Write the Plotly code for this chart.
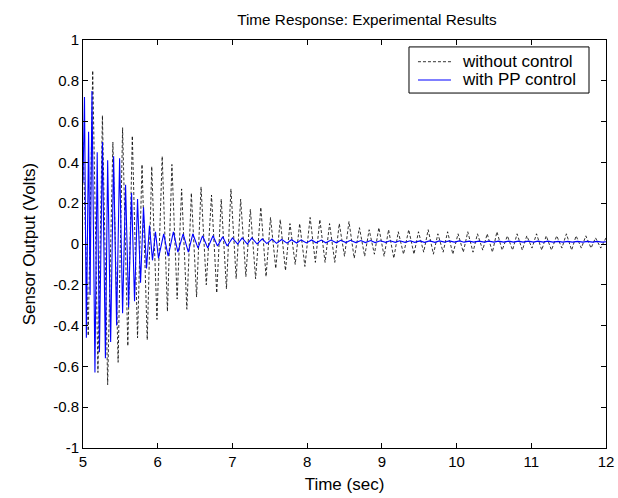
import plotly.graph_objects as go

# ---- data (extremes of each oscillation) ----
nc_peak_t = [5.00, 5.13, 5.26, 5.40, 5.53, 5.66, 5.79, 5.92, 6.06, 6.19,
             6.32, 6.45, 6.58, 6.72, 6.85, 6.98, 7.11, 7.24, 7.38, 7.51,
             7.64, 7.77, 7.90, 8.04, 8.17, 8.30, 8.43, 8.56, 8.70, 8.83,
             8.96, 9.09, 9.22, 9.36, 9.49, 9.62, 9.75, 9.88, 10.02, 10.15,
             10.28, 10.41, 10.54, 10.68, 10.81, 10.94, 11.07, 11.20, 11.34, 11.47,
             11.60, 11.73, 11.86, 12.00]
nc_peak_v = [0.50, 0.85, 0.63, 0.50, 0.57, 0.53, 0.39, 0.38, 0.43, 0.39,
             0.27, 0.25, 0.28, 0.24, 0.22, 0.27, 0.22, 0.17, 0.18, 0.13,
             0.12, 0.10, 0.10, 0.13, 0.12, 0.10, 0.10, 0.11, 0.08, 0.07,
             0.08, 0.07, 0.06, 0.07, 0.06, 0.07, 0.05, 0.06, 0.05, 0.06,
             0.05, 0.05, 0.06, 0.04, 0.05, 0.04, 0.05, 0.04, 0.04, 0.05,
             0.04, 0.04, 0.03, 0.03]
nc_trough_t = [5.07, 5.20, 5.33, 5.47, 5.60, 5.73, 5.86, 5.99, 6.13, 6.26,
               6.39, 6.52, 6.65, 6.79, 6.92, 7.05, 7.18, 7.31, 7.45, 7.58,
               7.71, 7.84, 7.97, 8.11, 8.24, 8.37, 8.50, 8.63, 8.77, 8.90,
               9.03, 9.16, 9.29, 9.43, 9.56, 9.69, 9.82, 9.95, 10.09, 10.22,
               10.35, 10.48, 10.61, 10.75, 10.88, 11.01, 11.14, 11.27, 11.41, 11.54,
               11.67, 11.80, 11.93]
nc_trough_v = [-0.45, -0.63, -0.69, -0.58, -0.50, -0.46, -0.47, -0.37, -0.33, -0.27,
               -0.32, -0.26, -0.20, -0.24, -0.22, -0.17, -0.16, -0.17, -0.16, -0.12,
               -0.13, -0.10, -0.11, -0.09, -0.09, -0.09, -0.06, -0.07, -0.06, -0.05,
               -0.06, -0.07, -0.05, -0.05, -0.04, -0.05, -0.04, -0.05, -0.04, -0.04,
               -0.03, -0.04, -0.03, -0.03, -0.03, -0.02, -0.03, -0.03, -0.02, -0.03,
               -0.02, -0.02, -0.02]

pp_t = [5.00, 5.02, 5.045, 5.075, 5.095, 5.12, 5.16, 5.19, 5.22, 5.26,
        5.30, 5.33, 5.37, 5.41, 5.45, 5.49, 5.53, 5.57, 5.61, 5.65,
        5.69, 5.73, 5.77, 5.81, 5.85, 5.89, 5.93, 5.97,
        6.01, 6.08, 6.14, 6.21, 6.27, 6.34, 6.41, 6.47, 6.54, 6.60,
        6.67, 6.74, 6.80, 6.87, 6.93, 7.00, 7.07, 7.13, 7.20, 7.26,
        7.33, 7.40, 7.46, 7.53, 7.59, 7.66, 7.73, 7.79, 7.86, 7.92,
        7.99, 8.06, 8.12, 8.19, 8.25, 8.32, 8.39, 8.45, 8.52, 8.58,
        8.65, 8.72, 8.78, 8.85, 8.91, 8.98, 9.05, 9.11, 9.18, 9.24,
        9.31, 9.38, 9.44, 9.51, 9.57, 9.64, 9.71, 9.77, 9.84, 9.90,
        9.97, 10.04, 10.10, 10.17, 10.23, 10.30, 10.37, 10.43, 10.50, 10.56,
        10.63, 10.70, 10.76, 10.83, 10.89, 10.96, 11.03, 11.09, 11.16, 11.22,
        11.29, 11.36, 11.42, 11.49, 11.55, 11.62, 11.69, 11.75, 11.82, 11.88,
        11.95, 12.00]
pp_v = [0.30, 0.72, -0.46, 0.55, -0.25, 0.75, -0.63, 0.45, -0.53, 0.50,
        -0.56, 0.41, -0.48, 0.43, -0.40, 0.42, -0.34, 0.29, -0.31, 0.25,
        -0.28, 0.22, -0.19, 0.18, -0.12, 0.09, -0.08, 0.06,
        -0.07, 0.05, -0.06, 0.06, -0.04, 0.05, -0.04, 0.05, -0.02, 0.04,
        -0.02, 0.04, -0.01, 0.035, -0.01, 0.03, 0.00, 0.03, 0.00, 0.03,
        0.00, 0.025, 0.002, 0.024, 0.003, 0.022, 0.004, 0.021, 0.005, 0.02,
        0.005, 0.02, 0.006, 0.019, 0.006, 0.019, 0.006, 0.018, 0.007, 0.018,
        0.007, 0.017, 0.007, 0.017, 0.007, 0.016, 0.008, 0.016, 0.008, 0.016,
        0.008, 0.016, 0.008, 0.015, 0.008, 0.015, 0.008, 0.015, 0.009, 0.015,
        0.009, 0.015, 0.009, 0.014, 0.009, 0.014, 0.009, 0.014, 0.009, 0.014,
        0.009, 0.014, 0.009, 0.014, 0.009, 0.014, 0.009, 0.014, 0.009, 0.014,
        0.009, 0.013, 0.009, 0.013, 0.009, 0.013, 0.009, 0.013, 0.009, 0.013,
        0.009, 0.011]

series_names = ["without control", "with PP control"]
x_ticks = [5, 6, 7, 8, 9, 10, 11, 12]
x_labels = ["5", "6", "7", "8", "9", "10", "11", "12"]
y_ticks = [-1, -0.8, -0.6, -0.4, -0.2, 0, 0.2, 0.4, 0.6, 0.8, 1]
y_labels = ["-1", "-0.8", "-0.6", "-0.4", "-0.2", "0", "0.2", "0.4", "0.6", "0.8", "1"]

# merge peaks and troughs of the uncontrolled response in time order
nc_pairs = sorted(zip(nc_peak_t + nc_trough_t, nc_peak_v + nc_trough_v))
nc_t = [p[0] for p in nc_pairs]
nc_v = [p[1] for p in nc_pairs]

FONT = "Liberation Sans, Arial, Helvetica, sans-serif"
NC_LINE = dict(color="black", width=0.8, dash="3px,2px")
PP_LINE = dict(color="rgb(0,0,255)", width=1.1)

fig = go.Figure()
fig.add_trace(go.Scatter(x=nc_t, y=nc_v, mode="lines", name=series_names[0], line=NC_LINE))
fig.add_trace(go.Scatter(x=pp_t, y=pp_v, mode="lines", name=series_names[1], line=PP_LINE))

axis_common = dict(showgrid=False, zeroline=False, showline=True, linecolor="black",
                   linewidth=1, mirror="ticks", ticks="inside", ticklen=5,
                   tickcolor="black", tickwidth=1, automargin=False,
                   tickfont=dict(family=FONT, size=15, color="black"))

# MATLAB-style legend box drawn in paper coordinates
leg_x0, leg_x1, leg_y0, leg_y1 = 0.6233, 0.9675, 0.870, 0.983
row_y = [0.9468, 0.902]
line_x0, line_x1, text_x = 0.6405, 0.7036, 0.7208
shapes = [dict(type="rect", xref="paper", yref="paper", x0=leg_x0, x1=leg_x1,
               y0=leg_y0, y1=leg_y1, line=dict(color="black", width=1),
               fillcolor="white", layer="above")]
annotations = []
for name, ly, style in zip(series_names, row_y, [NC_LINE, PP_LINE]):
    shapes.append(dict(type="line", xref="paper", yref="paper", x0=line_x0, x1=line_x1,
                       y0=ly, y1=ly, line=style, layer="above"))
    annotations.append(dict(text=name, xref="paper", yref="paper", x=text_x, y=ly,
                            xanchor="left", yanchor="middle", showarrow=False,
                            font=dict(family=FONT, size=17, color="black")))

fig.update_layout(
    width=618, height=498,
    paper_bgcolor="white", plot_bgcolor="white",
    margin=dict(l=83, r=12, t=40, b=50, autoexpand=False),
    title=dict(text="Time Response: Experimental Results", x=0.543, xanchor="center",
               xref="paper", y=0.96, yref="container", yanchor="middle",
               font=dict(family=FONT, size=15.3, color="black")),
    xaxis=dict(range=[5, 12], tickvals=x_ticks, ticktext=x_labels,
               title=dict(text="Time (sec)", font=dict(family=FONT, size=17, color="black"),
                          standoff=9),
               **axis_common),
    yaxis=dict(range=[-1, 1], tickvals=y_ticks, ticktext=y_labels,
               title=dict(text="Sensor Output (Volts)",
                          font=dict(family=FONT, size=17, color="black"), standoff=13),
               **axis_common),
    shapes=shapes,
    annotations=annotations,
    showlegend=False,
)

fig.write_html("out.html", config={"displayModeBar": False},
               post_script="document.body.style.margin='0';")
